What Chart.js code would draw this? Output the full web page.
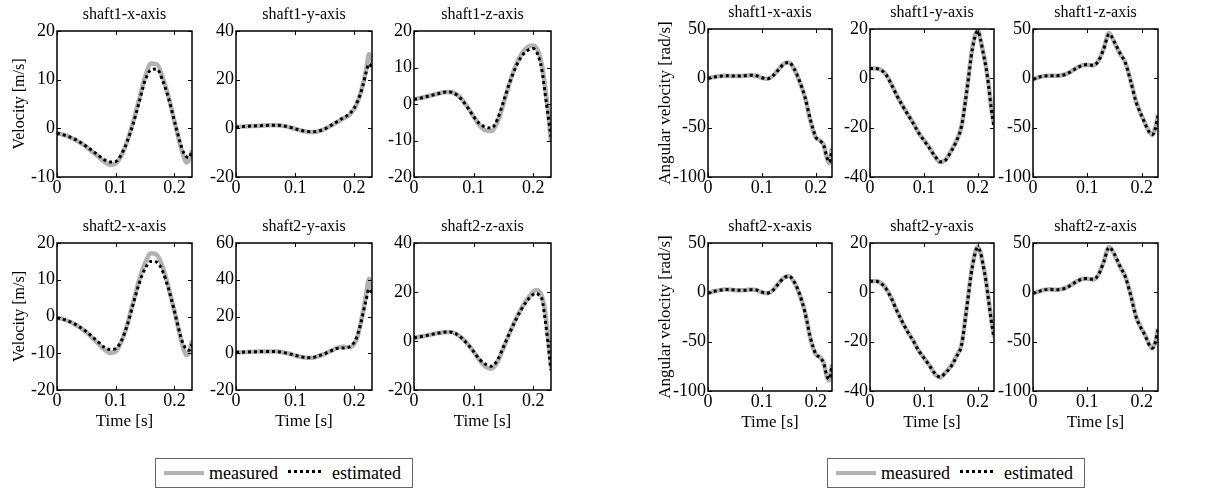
<!DOCTYPE html>
<html>
<head>
<meta charset="utf-8">
<title>Velocity and angular velocity</title>
<script src="https://cdn.jsdelivr.net/npm/chart.js@4.4.1/dist/chart.umd.min.js"></script>
<style>
    html, body { margin: 0; padding: 0; background: #fff; }
    #page { position: relative; width: 1213px; height: 492px; overflow: hidden;
            font-family: "Liberation Serif", "Times New Roman", serif; color: #000; }
    #page canvas { position: absolute; }
    .legend { position: absolute; box-sizing: border-box; height: 30px; border: 1px solid #666;
              display: flex; align-items: center; font-size: 18px; background: #fff; }
    .legend .solid { width: 40px; height: 4px; background: #b2b2b2; margin: 0 5px 0 8px; }
    .legend .dots { width: 36px; height: 3px; margin: -4px 8px 0 10px;
                    background: repeating-linear-gradient(90deg, #000 0 3px, transparent 3px 6px); }
</style>
</head>
<body>
<div id="page">
    <div class="legend" style="left:155px; top:458px; width:258px;">
        <span class="solid"></span><span>measured</span><span class="dots"></span><span>estimated</span>
    </div>
    <div class="legend" style="left:827px; top:458px; width:258px;">
        <span class="solid"></span><span>measured</span><span class="dots"></span><span>estimated</span>
    </div>
</div>
<script>

// =====================================
// Data
// =====================================

const time = [0, 0.01, 0.02, 0.03, 0.04, 0.05, 0.06, 0.07, 0.08, 0.09, 0.10,
              0.11, 0.12, 0.13, 0.14, 0.15, 0.16, 0.17, 0.18, 0.19, 0.20,
              0.205, 0.21, 0.215, 0.22, 0.225, 0.23];

const timeTicks = [0, 0.1, 0.2];

// linear velocity [m/s]
const s1xVelMeasured  = [-1.0, -1.3, -1.7, -2.3, -3.0, -3.8, -4.8, -5.8, -6.8, -7.5, -7.2, -5.5, -2.5, 1.5, 6.0, 10.5, 13.3, 13.2, 10.5, 6.5, 1.5, -1.0, -3.5, -5.5, -7.0, -6.5, -4.5];
const s1xVelEstimated = [-1.0, -1.3, -1.7, -2.2, -2.9, -3.7, -4.6, -5.5, -6.4, -6.9, -6.8, -5.3, -2.6, 1.0, 5.4, 9.8, 12.0, 12.2, 9.8, 6.2, 1.5, -0.8, -3.0, -4.8, -5.8, -6.0, -4.8];
const s1yVelMeasured  = [0.5, 0.7, 0.9, 1.0, 1.1, 1.2, 1.3, 1.3, 1.0, 0.5, -0.2, -0.9, -1.4, -1.5, -1.2, -0.3, 1.0, 2.4, 3.8, 5.2, 8.0, 10.5, 14, 18.5, 24, 30.5, 27];
const s1yVelEstimated = [0.5, 0.7, 0.9, 1.0, 1.1, 1.2, 1.3, 1.3, 1.0, 0.5, -0.2, -0.9, -1.3, -1.4, -1.1, -0.2, 1.1, 2.6, 4.2, 5.6, 8.4, 10.8, 13.8, 18, 23, 26.5, 25];
const s1zVelMeasured  = [1.3, 1.6, 2.0, 2.4, 2.8, 3.2, 3.3, 2.8, 1.4, -0.8, -3.4, -5.8, -7.2, -7.4, -5.0, 0.0, 5.5, 10.2, 13.6, 15.5, 16.0, 15.5, 13.8, 10.5, 5, -2, -10.5];
const s1zVelEstimated = [1.3, 1.6, 2.0, 2.4, 2.8, 3.2, 3.3, 2.7, 1.2, -1.0, -3.4, -5.4, -6.3, -6.6, -4.2, 0.5, 5.6, 9.8, 12.9, 14.6, 15.2, 14.5, 12.5, 9, 3, -3, -9];
const s2xVelMeasured  = [-0.4, -0.7, -1.3, -2.1, -3.1, -4.3, -5.8, -7.4, -8.9, -9.9, -9.5, -6.8, -2.0, 4.0, 10.0, 14.5, 17.2, 16.8, 13.5, 8.0, 1.5, -2.0, -5.5, -8.5, -10.5, -10, -6.5];
const s2xVelEstimated = [-0.4, -0.7, -1.3, -2.0, -3.0, -4.1, -5.5, -6.9, -8.3, -9.0, -8.7, -6.5, -2.2, 3.5, 9.0, 13.0, 15.0, 14.8, 12.3, 7.5, 1.5, -1.8, -5, -7.5, -8.8, -9.2, -7.5];
const s2yVelMeasured  = [0.5, 0.6, 0.7, 0.8, 0.9, 1.0, 1.0, 0.9, 0.4, -0.3, -1.2, -2.0, -2.5, -2.4, -1.5, -0.3, 1.2, 2.8, 3.6, 3.3, 5.0, 8.5, 15, 23, 32, 40.5, 34];
const s2yVelEstimated = [0.5, 0.6, 0.7, 0.8, 0.9, 1.0, 1.0, 0.9, 0.4, -0.3, -1.1, -1.9, -2.4, -2.3, -1.4, -0.2, 1.2, 2.6, 2.8, 3.2, 6.0, 9.5, 15, 22, 29, 35, 33];
const s2zVelMeasured  = [1.3, 1.7, 2.2, 2.7, 3.2, 3.6, 3.7, 3.0, 1.3, -1.2, -4.3, -7.8, -10.5, -11.3, -8.5, -3.0, 3.0, 8.5, 13.2, 17.0, 20.0, 20.8, 20.3, 18, 12.5, 2, -11];
const s2zVelEstimated = [1.3, 1.7, 2.2, 2.7, 3.2, 3.6, 3.7, 3.0, 1.2, -1.3, -4.3, -7.5, -9.5, -10.3, -7.8, -2.5, 3.0, 8.2, 12.8, 16.5, 19.0, 19.5, 18.8, 17, 9, -1, -12];

// angular velocity [rad/s]
const s1xAngMeasured  = [0, 1.2, 2.2, 2.5, 2.4, 2.3, 2.4, 2.8, 3.2, 2.5, 0.5, -0.5, 2.5, 8.5, 14.5, 16.0, 9.0, -3.5, -19, -43, -60, -62, -64, -68, -80, -86, -71];
const s1xAngEstimated = [0, 1.1, 2.1, 2.5, 2.5, 2.3, 2.3, 2.7, 3.1, 2.6, 0.6, -0.4, 2.3, 8.2, 14.2, 16.2, 9.5, -3.0, -19.5, -42, -59.5, -62.5, -64.5, -68.5, -79, -85, -72];
const s1yAngMeasured  = [4.0, 4.0, 3.5, 1.5, -2.5, -7.0, -11.0, -14.5, -18.0, -22.0, -25.0, -28.0, -31.5, -34.0, -33.0, -29.5, -25.5, -19.0, -4.0, 12.5, 19.5, 15.5, 10.5, 5, -2.5, -12, -19];
const s1yAngEstimated = [4.0, 4.0, 3.4, 1.4, -2.6, -7.1, -11.0, -14.6, -18.2, -22.0, -25.2, -28.2, -31.4, -33.8, -33.2, -29.8, -25.6, -19.2, -4.5, 12.0, 19.2, 15.8, 10.2, 4.6, -3, -12.5, -19.5];
const s1zAngMeasured  = [-1, 1.0, 2.4, 2.6, 2.6, 2.8, 4.2, 7.0, 10.5, 13.2, 13.8, 13.0, 17.5, 30, 46, 36, 25, 16, -3, -24, -38, -44, -50, -55, -57.5, -50, -37];
const s1zAngEstimated = [-1, 1.0, 2.3, 2.6, 2.7, 2.8, 4.0, 6.8, 10.3, 13.0, 13.9, 13.2, 17.2, 29.5, 45, 36.5, 25.5, 15.5, -3.5, -24.5, -38, -44.5, -50.5, -55.5, -57, -51, -38];
const s2xAngMeasured  = [-1, 0.8, 2.0, 2.8, 2.8, 2.2, 2.0, 2.3, 2.8, 2.2, 0.0, -1.0, 2.0, 8.5, 14.5, 16.5, 10, -2.5, -20, -47, -63, -65, -67, -72, -85, -89, -73];
const s2xAngEstimated = [-1, 0.8, 2.0, 2.7, 2.8, 2.3, 2.0, 2.2, 2.7, 2.3, 0.2, -0.8, 1.8, 8.2, 14.2, 16.6, 10.5, -2.0, -20.5, -46, -62.5, -65, -67.5, -72.5, -84, -88, -74];
const s2yAngMeasured  = [4.5, 4.6, 3.8, 1.5, -2.5, -7.5, -12, -16, -19.5, -23.5, -26.5, -29.5, -33, -34.5, -32.5, -30, -26, -21, -5, 11, 18.5, 16, 11, 5, -3, -11, -18];
const s2yAngEstimated = [4.5, 4.5, 3.7, 1.4, -2.6, -7.6, -12, -16.1, -19.6, -23.6, -26.6, -29.6, -32.8, -34.3, -32.6, -30.2, -26.2, -21.2, -5.5, 10.5, 18.2, 16.2, 10.8, 4.7, -3.4, -11.5, -18.5];
const s2zAngMeasured  = [-1, 0.8, 2.5, 3.2, 2.5, 3.0, 4.5, 7.5, 11.0, 13.5, 13.8, 13.0, 17.5, 31, 46, 38, 26, 16, -3, -25, -37, -42, -48, -54, -57, -50, -37];
const s2zAngEstimated = [-1, 0.8, 2.4, 3.1, 2.6, 3.0, 4.3, 7.3, 10.8, 13.3, 13.9, 13.2, 17.2, 30.5, 45.5, 38.5, 26.5, 15.5, -3.5, -25.5, -37.5, -42.5, -48.5, -54.5, -56.5, -51, -38];

// y tick labels per panel
const ticksS1xVel = [-10, 0, 10, 20];
const ticksS1yVel = [-20, 0, 20, 40];
const ticksS1zVel = [-20, -10, 0, 10, 20];
const ticksS2xVel = [-20, -10, 0, 10, 20];
const ticksS2yVel = [-20, 0, 20, 40, 60];
const ticksS2zVel = [-20, 0, 20, 40];
const ticksAngXZ  = [-100, -50, 0, 50];
const ticksAngY   = [-40, -20, 0, 20];

// =====================================
// Layout / style
// =====================================

const FONT = "'Liberation Serif', 'Times New Roman', serif";
const X_MAX = 0.23;
const TITLE_H = 30;     // space above the plot box
const XAXIS_H = 45;     // space below the plot box
const RIGHT_PAD = 6;

const panels = [
    // velocity figure
    { title: "shaft1-x-axis", m: s1xVelMeasured, e: s1xVelEstimated, yt: ticksS1xVel, left: 57,  top: 31,  w: 135, h: 146, yw: 50, ylabel: "Velocity [m/s]", lsize: 16, lpad: 3.4 },
    { title: "shaft1-y-axis", m: s1yVelMeasured, e: s1yVelEstimated, yt: ticksS1yVel, left: 236, top: 31,  w: 136, h: 146, yw: 50 },
    { title: "shaft1-z-axis", m: s1zVelMeasured, e: s1zVelEstimated, yt: ticksS1zVel, left: 414, top: 31,  w: 137, h: 146, yw: 50 },
    { title: "shaft2-x-axis", m: s2xVelMeasured, e: s2xVelEstimated, yt: ticksS2xVel, left: 57,  top: 243, w: 135, h: 147, yw: 50, ylabel: "Velocity [m/s]", lsize: 16, lpad: 3.4, xlabel: true },
    { title: "shaft2-y-axis", m: s2yVelMeasured, e: s2yVelEstimated, yt: ticksS2yVel, left: 236, top: 243, w: 136, h: 147, yw: 50, xlabel: true },
    { title: "shaft2-z-axis", m: s2zVelMeasured, e: s2zVelEstimated, yt: ticksS2zVel, left: 414, top: 243, w: 137, h: 147, yw: 50, xlabel: true },
    // angular velocity figure
    { title: "shaft1-x-axis", m: s1xAngMeasured, e: s1xAngEstimated, yt: ticksAngXZ, left: 708,  top: 29,  w: 124, h: 148, yw: 54, ylabel: "Angular velocity [rad/s]", lsize: 17, lpad: 1.5 },
    { title: "shaft1-y-axis", m: s1yAngMeasured, e: s1yAngEstimated, yt: ticksAngY,  left: 870,  top: 29,  w: 124, h: 148, yw: 54 },
    { title: "shaft1-z-axis", m: s1zAngMeasured, e: s1zAngEstimated, yt: ticksAngXZ, left: 1033, top: 29,  w: 125, h: 148, yw: 54 },
    { title: "shaft2-x-axis", m: s2xAngMeasured, e: s2xAngEstimated, yt: ticksAngXZ, left: 708,  top: 243, w: 124, h: 148, yw: 54, ylabel: "Angular velocity [rad/s]", lsize: 17, lpad: 1.5, xlabel: true },
    { title: "shaft2-y-axis", m: s2yAngMeasured, e: s2yAngEstimated, yt: ticksAngY,  left: 870,  top: 243, w: 124, h: 148, yw: 54, xlabel: true },
    { title: "shaft2-z-axis", m: s2zAngMeasured, e: s2zAngEstimated, yt: ticksAngXZ, left: 1033, top: 243, w: 125, h: 148, yw: 54, xlabel: true }
];

// box round the plot with inward ticks on all four sides
const boxFrame = {
    id: "boxFrame",
    afterDatasetsDraw(chart) {
        const { ctx, chartArea: a, scales: { x, y } } = chart;
        ctx.save();
        ctx.strokeStyle = "#000";
        ctx.lineWidth = 1.5;
        ctx.strokeRect(a.left, a.top, a.right - a.left, a.bottom - a.top);
        ctx.beginPath();
        x.ticks.forEach(t => {
            const px = Math.round(x.getPixelForValue(t.value)) + 0.5;
            ctx.moveTo(px, a.bottom); ctx.lineTo(px, a.bottom - 4);
            ctx.moveTo(px, a.top);    ctx.lineTo(px, a.top + 4);
        });
        y.ticks.forEach(t => {
            const py = Math.round(y.getPixelForValue(t.value)) + 0.5;
            ctx.moveTo(a.left, py);  ctx.lineTo(a.left + 4, py);
            ctx.moveTo(a.right, py); ctx.lineTo(a.right - 4, py);
        });
        ctx.lineWidth = 1;
        ctx.stroke();
        ctx.restore();
    }
};

const page = document.getElementById("page");

panels.forEach(p => {

    const canvas = document.createElement("canvas");
    canvas.width = p.yw + p.w + RIGHT_PAD;
    canvas.height = TITLE_H + p.h + XAXIS_H;
    canvas.style.left = (p.left - p.yw) + "px";
    canvas.style.top = (p.top - TITLE_H) + "px";
    page.appendChild(canvas);

    new Chart(canvas.getContext("2d"), {
        type: "line",
        data: {
            datasets: [
                {
                    label: "measured",
                    data: time.map((t, i) => ({ x: t, y: p.m[i] })),
                    borderColor: "#b2b2b2",
                    borderWidth: 4.5,
                    pointRadius: 0,
                    cubicInterpolationMode: "monotone",
                    order: 2
                },
                {
                    label: "estimated",
                    data: time.map((t, i) => ({ x: t, y: p.e[i] })),
                    borderColor: "#000",
                    borderWidth: 3,
                    borderDash: [3, 3],
                    pointRadius: 0,
                    cubicInterpolationMode: "monotone",
                    order: 1
                }
            ]
        },
        options: {
            responsive: false,
            animation: false,
            events: [],
            layout: { padding: { left: 0, top: 0, right: RIGHT_PAD, bottom: 0 } },
            plugins: {
                legend: { display: false },
                tooltip: { enabled: false },
                title: {
                    display: true,
                    fullSize: false,
                    text: p.title,
                    color: "#000",
                    font: { family: FONT, size: 16, weight: "normal" },
                    padding: { top: 4.4, bottom: 6.4 }
                }
            },
            scales: {
                x: {
                    type: "linear",
                    min: 0,
                    max: X_MAX,
                    afterBuildTicks: s => { s.ticks = timeTicks.map(v => ({ value: v })); },
                    afterFit: s => { s.height = XAXIS_H; },
                    grid: { display: false, drawTicks: false },
                    border: { display: false },
                    ticks: {
                        color: "#000", padding: 0, maxRotation: 0, autoSkip: false,
                        font: { family: FONT, size: 18 },
                        callback: v => String(v)
                    },
                    title: {
                        display: !!p.xlabel,
                        text: "Time [s]",
                        color: "#000",
                        font: { family: FONT, size: 17 },
                        padding: { top: 0, bottom: 3 }
                    }
                },
                y: {
                    type: "linear",
                    min: p.yt[0],
                    max: p.yt[p.yt.length - 1],
                    afterBuildTicks: s => { s.ticks = p.yt.map(v => ({ value: v })); },
                    afterFit: s => { s.width = p.yw; },
                    grid: { display: false, drawTicks: false },
                    border: { display: false },
                    ticks: {
                        color: "#000", padding: 2, autoSkip: false,
                        font: { family: FONT, size: 18 },
                        callback: v => String(v)
                    },
                    title: {
                        display: !!p.ylabel,
                        text: p.ylabel || "",
                        color: "#000",
                        font: { family: FONT, size: p.lsize || 16 },
                        padding: { top: p.lpad || 0, bottom: 0 }
                    }
                }
            }
        },
        plugins: [boxFrame]
    });

});

</script>
</body>
</html>
